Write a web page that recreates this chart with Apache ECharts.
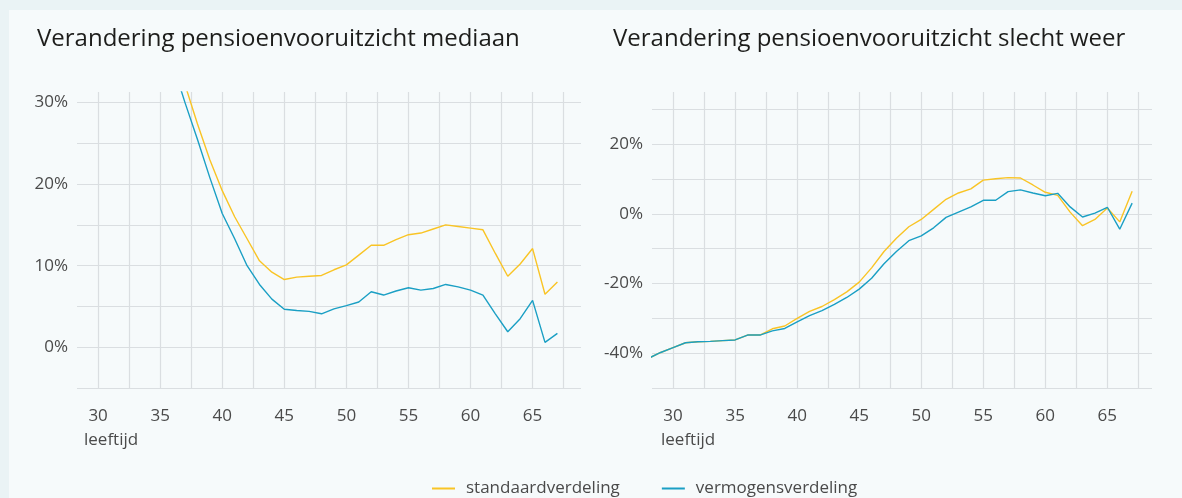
<!DOCTYPE html>
<html>
<head>
<meta charset="utf-8">
<script src="https://cdn.jsdelivr.net/npm/echarts@6/dist/echarts.min.js"></script>
<style>
    html, body {margin: 0; padding: 0; background: #eaf3f5;}
    #main {width: 1182px; height: 498px;}
</style>
</head>
<body>
<div id="main"></div>
<script>
    // leeftijden en waarden (in %)
    var leeftijdMediaan = [36, 37, 38, 39, 40, 41, 42, 43, 44, 45, 46, 47, 48, 49, 50, 51,
        52, 53, 54, 55, 56, 57, 58, 59, 60, 61, 62, 63, 64, 65, 66, 67];
    var mediaanStandaard = [37.2, 32.2, 27.4, 23.0, 19.2, 16.0, 13.3, 10.6, 9.2, 8.3, 8.6, 8.7, 8.8, 9.5, 10.1, 11.3,
        12.5, 12.5, 13.2, 13.8, 14.0, 14.5, 15.0, 14.8, 14.6, 14.4, 11.5, 8.7, 10.2, 12.1, 6.5, 8.0];
    var mediaanVermogen = [34.8, 30.0, 25.5, 20.8, 16.4, 13.3, 10.0, 7.7, 5.9, 4.65, 4.5, 4.4, 4.1, 4.7, 5.1, 5.55,
        6.8, 6.4, 6.9, 7.3, 7.0, 7.2, 7.7, 7.4, 7.0, 6.4, 4.1, 1.9, 3.5, 5.75, 0.6, 1.7];

    var leeftijdSlecht = [28, 29, 30, 31, 32, 33, 34, 35, 36, 37, 38, 39, 40, 41, 42, 43, 44, 45, 46, 47,
        48, 49, 50, 51, 52, 53, 54, 55, 56, 57, 58, 59, 60, 61, 62, 63, 64, 65, 66, 67];
    var slechtStandaard = [-41.5, -39.8, -38.4, -37.0, -36.7, -36.6, -36.4, -36.2, -34.8, -34.8, -33.0, -32.2, -30.0, -28.0, -26.6, -24.6, -22.4, -19.6, -15.5, -10.8,
        -7.0, -3.7, -1.6, 1.3, 4.2, 6.0, 7.2, 9.7, 10.1, 10.4, 10.3, 8.3, 6.2, 5.3, 0.5, -3.4, -1.6, 1.7, -2.3, 6.5];
    var slechtVermogen = [-41.5, -39.8, -38.4, -37.0, -36.7, -36.6, -36.4, -36.2, -34.8, -34.8, -33.6, -32.9, -31.0, -29.2, -27.8, -26.0, -24.0, -21.6, -18.5, -14.3,
        -10.8, -7.7, -6.3, -4.0, -1.0, 0.5, 2.0, 3.9, 3.9, 6.4, 6.9, 6.0, 5.2, 5.9, 2.0, -0.9, 0.2, 1.9, -4.4, 3.1];

    var xLabels = [30, 35, 40, 45, 50, 55, 60, 65];
    var xLines = [30, 32.5, 35, 37.5, 40, 42.5, 45, 47.5, 50, 52.5, 55, 57.5, 60, 62.5, 65, 67.5];
    var yLinesMediaan = [-5, 0, 5, 10, 15, 20, 25, 30];
    var yLabelsMediaan = [0, 10, 20, 30];
    var yLinesSlecht = [-50, -40, -30, -20, -10, 0, 10, 20, 30];
    var yLabelsSlecht = [-40, -20, 0, 20];

    var geel = '#f9c425', blauw = '#1a9fc4';
    var tekst = '#4a4a4a', raster = '#dadee1';
    var font = 'Open Sans';

    function pairs(xs, ys) {
        return xs.map(function (x, i) {
            return [x, ys[i]];
        });
    }

    function xAs(idx, max) {
        return {
            type: 'value', gridIndex: idx, min: 28.3, max: max,
            axisLine: {show: false},
            axisTick: {show: false, customValues: xLines},
            axisLabel: {customValues: xLabels, color: tekst, fontSize: 17, fontFamily: font, margin: 20},
            splitLine: {show: true, lineStyle: {color: raster, width: 1.2}}
        };
    }

    function yAs(idx, min, max, lines, labels) {
        return {
            type: 'value', gridIndex: idx, min: min, max: max,
            axisLine: {show: false},
            axisTick: {show: false, customValues: lines},
            axisLabel: {customValues: labels, formatter: '{value}%', color: tekst, fontSize: 17, fontFamily: font, margin: 9},
            splitLine: {show: true, lineStyle: {color: raster, width: 1.2}}
        };
    }

    function lijn(name, idx, data, color) {
        return {
            name: name, type: 'line', xAxisIndex: idx, yAxisIndex: idx,
            data: data, symbol: 'none', color: color,
            lineStyle: {color: color, width: 1.4}
        };
    }

    var chart = echarts.init(document.getElementById('main'));
    chart.setOption({
        backgroundColor: '#eaf3f5',
        animation: false,
        graphic: [
            {type: 'rect', shape: {x: 9, y: 10, width: 1173, height: 488}, style: {fill: '#f6fafb'}, z: -10},
            {type: 'text', left: 84, top: 432, style: {text: 'leeftijd', fill: tekst, fontSize: 17, fontFamily: font}},
            {type: 'text', left: 661, top: 432, style: {text: 'leeftijd', fill: tekst, fontSize: 17, fontFamily: font}}
        ],
        title: [
            {text: 'Verandering pensioenvooruitzicht mediaan', left: 32, top: 22,
                textStyle: {fontSize: 24, fontWeight: 'normal', color: '#1d1d1b', fontFamily: font}},
            {text: 'Verandering pensioenvooruitzicht slecht weer', left: 608, top: 22,
                textStyle: {fontSize: 24, fontWeight: 'normal', color: '#1d1d1b', fontFamily: font}}
        ],
        legend: {
            data: ['standaardverdeling', 'vermogensverdeling'],
            left: 427, top: 475, itemGap: 42,
            icon: 'rect', itemWidth: 23, itemHeight: 2,
            textStyle: {color: tekst, fontSize: 17, fontFamily: font, padding: [0, 0, 0, 6]}
        },
        grid: [
            {left: 77, right: 601, top: 92, bottom: 110},
            {left: 652, right: 30, top: 92, bottom: 110}
        ],
        xAxis: [xAs(0, 68.9), xAs(1, 68.6)],
        yAxis: [
            yAs(0, -5, 31.3, yLinesMediaan, yLabelsMediaan),
            yAs(1, -50, 35, yLinesSlecht, yLabelsSlecht)
        ],
        series: [
            lijn('standaardverdeling', 0, pairs(leeftijdMediaan, mediaanStandaard), geel),
            lijn('vermogensverdeling', 0, pairs(leeftijdMediaan, mediaanVermogen), blauw),
            lijn('standaardverdeling', 1, pairs(leeftijdSlecht, slechtStandaard), geel),
            lijn('vermogensverdeling', 1, pairs(leeftijdSlecht, slechtVermogen), blauw)
        ]
    });
</script>
</body>
</html>
